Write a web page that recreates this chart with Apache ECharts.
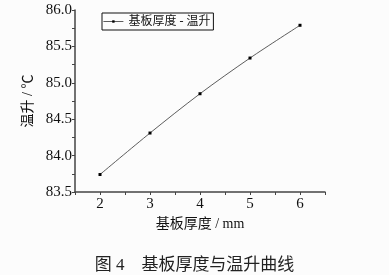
<!DOCTYPE html>
<html><head><meta charset="utf-8">
<script src="https://cdn.jsdelivr.net/npm/echarts@6/dist/echarts.min.js"></script>
<style>html,body{margin:0;padding:0;background:#fcfcfc}#c{width:389px;height:275px}</style>
</head><body><div id="c"></div>
<script>
var thickness = [2, 3, 4, 5, 6];
var tempRise = [83.74, 84.31, 84.85, 85.34, 85.79];
var seriesName = '基板厚度 - 温升';
var xName = '基板厚度 / mm';
var yName = '温升 / ℃';
var caption = '图 4　基板厚度与温升曲线';
var serif = '"Liberation Serif","Times New Roman","Noto Sans CJK SC",serif';
var chart = echarts.init(document.getElementById('c'));
chart.setOption({
  backgroundColor: '#fcfcfc',
  animation: false,
  title: {
    text: caption, left: 'center', top: 252,
    textStyle: {fontFamily: serif, fontSize: 17, fontWeight: 'normal', color: '#222'}
  },
  legend: {
    data: [seriesName],
    left: 102, top: 13, padding: [2, 3, 2, 1],
    borderColor: '#111', borderWidth: 1, borderRadius: 0,
    itemWidth: 20, itemHeight: 3, itemGap: 4,
    lineStyle: {width: 0.8, color: '#333'},
    itemStyle: {color: '#000'},
    textStyle: {fontFamily: serif, fontSize: 12, color: '#111', lineHeight: 13}
  },
  grid: {left: 75, right: 64, top: 10, bottom: 83},
  xAxis: {
    type: 'value', min: 1.5, max: 6.5, interval: 0.5,
    name: xName, nameLocation: 'middle', nameGap: 25,
    nameTextStyle: {fontFamily: serif, fontSize: 14, color: '#111'},
    axisLine: {lineStyle: {color: '#444', width: 1.5}},
    axisTick: {show: true, length: 3, lineStyle: {color: '#444'}},
    axisLabel: {fontFamily: serif, fontSize: 15, color: '#111', margin: 5,
      formatter: function(v){ return (Math.abs(v - Math.round(v)) < 1e-6) ? String(Math.round(v)) : ''; }},
    splitLine: {show: false}
  },
  yAxis: {
    type: 'value', min: 83.5, max: 86.0, interval: 0.25,
    name: yName, nameLocation: 'middle', nameGap: 40, nameRotate: 90,
    nameTextStyle: {fontFamily: serif, fontSize: 14, color: '#111'},
    axisLine: {show: true, lineStyle: {color: '#444', width: 1.5}},
    axisTick: {show: true, length: 3, lineStyle: {color: '#444'}},
    axisLabel: {fontFamily: serif, fontSize: 15, color: '#111', margin: 3,
      formatter: function(v){ var r = Math.round(v * 2) / 2; return (Math.abs(v - r) < 1e-6) ? r.toFixed(1) : ''; }},
    splitLine: {show: false}
  },
  series: [{
    name: seriesName, type: 'line', smooth: 0.3,
    data: thickness.map(function(x, i){ return [x, tempRise[i]]; }),
    symbol: 'rect', symbolSize: 3,
    lineStyle: {color: '#333', width: 0.8},
    itemStyle: {color: '#000'}
  }]
});
</script></body></html>
